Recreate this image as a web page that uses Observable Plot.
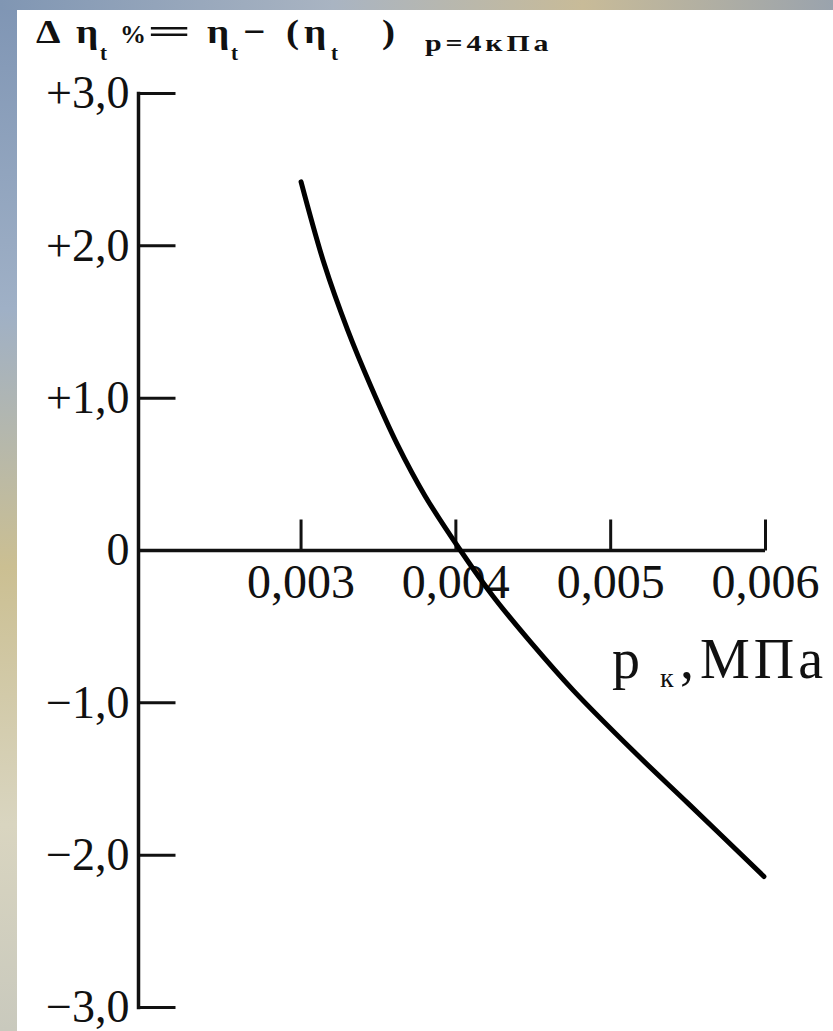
<!DOCTYPE html>
<html>
<head>
<meta charset="utf-8">
<script src="https://cdn.jsdelivr.net/npm/d3@7"></script>
<script src="https://cdn.jsdelivr.net/npm/@observablehq/plot@0.6"></script>
<style>
html, body { margin: 0; padding: 0; }
body {
  width: 833px; height: 1031px; position: relative; overflow: hidden;
  background: linear-gradient(180deg, #7f95b4 0%, #9fb0c6 30%, #cbbf92 55%, #d9d5c0 80%, #c9c9bd 100%);
}
#topstrip {
  position: absolute; left: 0; top: 0; width: 833px; height: 10px;
  background: linear-gradient(90deg, #8096b3 0%, #a9b4c2 40%, #c8bb98 70%, #9aa3ad 100%);
}
#panel { position: absolute; left: 17px; top: 10px; right: 0; bottom: 0; background: #fff; }
#chart { position: absolute; left: 0; top: 0; }
.t { position: absolute; white-space: nowrap; line-height: 1; color: #111;
     font-family: "Liberation Serif", serif; transform-origin: 0 0; }
.tb { font-weight: bold; font-size: 34px; top: 15px; transform: scaleX(1.15); }
.ts { font-weight: bold; font-size: 21px; top: 43px; }
.tpct { font-weight: bold; font-size: 26px; top: 22px; }
.teq { font-weight: bold; font-size: 34px; top: 15px; transform: scaleX(2.3); }
.tp { font-weight: bold; font-size: 23px; top: 32px; letter-spacing: 3px; transform: scaleX(1.3); }
.xl { font-size: 56px; top: 631px; }
.xs { font-size: 28px; top: 664px; }
g[aria-label="ylabels"] text { letter-spacing: 5px; }
g[aria-label="xlabels"] text { letter-spacing: 1.5px; }
</style>
</head>
<body>
<div id="topstrip"></div>
<div id="panel"></div>
<div id="chart"></div>
<!-- title: Δη_t % = η_t − (η_t)_{p=4кПа} -->
<span class="t tb" style="left:36px">Δ</span>
<span class="t tb" style="left:76px">η</span><span class="t ts" style="left:100px">t</span>
<span class="t tpct" style="left:120px">%</span>
<span class="t teq" style="left:147px">=</span>
<span class="t tb" style="left:207px">η</span><span class="t ts" style="left:231px">t</span>
<span class="t tb" style="left:243px">−</span>
<span class="t tb" style="left:286px">(</span>
<span class="t tb" style="left:304px">η</span><span class="t ts" style="left:331px">t</span>
<span class="t tb" style="left:382px">)</span>
<span class="t tp" style="left:425px">p=4кПа</span>
<!-- x axis label: p_к, МПа -->
<span class="t xl" style="left:612px">p</span>
<span class="t xs" style="left:660px">к</span>
<span class="t xl" style="left:680px">,</span>
<span class="t xl" style="left:700px; letter-spacing:4px">МПа</span>
<script>
// Data
const pk   = [0.00300, 0.00315, 0.00330, 0.00345, 0.00362, 0.00380, 0.00403, 0.00424, 0.00449, 0.00476, 0.00515, 0.00550, 0.00599];
const dEta = [2.42,    1.88,    1.45,    1.08,    0.70,    0.36,    0.00,   -0.30,   -0.61,   -0.92,   -1.32,   -1.66,   -2.14];

const xTicks = [0.003, 0.004, 0.005, 0.006];
const xTickLabels = ["0,003", "0,004", "0,005", "0,006"];
const yTicks = [3, 2, 1, 0, -1, -2, -3];
const yTickLabels = ["+3,0", "+2,0", "+1,0", "0", "−1,0", "−2,0", "−3,0"];
const xDomain = [0.00195, 0.006];
const yDomain = [-3, 3];

const data = pk.map((x, i) => ({x, y: dEta[i]}));
const tickShape = { draw(ctx, l) { ctx.moveTo(0, 0); ctx.lineTo(0, -l); } };

const chart = Plot.plot({
  width: 833, height: 1031,
  marginLeft: 138, marginRight: 68, marginTop: 93, marginBottom: 24,
  style: { background: "transparent", fontFamily: "Liberation Serif, serif", color: "#111" },
  x: { domain: xDomain, axis: null },
  y: { domain: yDomain, axis: null },
  marks: [
    Plot.frame({ anchor: "left", stroke: "#111", strokeWidth: 3.5 }),
    Plot.ruleY([0], { stroke: "#111", strokeWidth: 3.5 }),
    Plot.vector(yTicks, { y: d => d, frameAnchor: "left", length: 37, rotate: 90, anchor: "start",
      shape: tickShape, stroke: "#111", strokeWidth: 3, strokeLinecap: "butt" }),
    Plot.vector(xTicks, { x: d => d, y: 0, length: 31, rotate: 0, anchor: "start",
      shape: tickShape, stroke: "#111", strokeWidth: 3, strokeLinecap: "butt" }),
    Plot.text(yTicks, { y: d => d, frameAnchor: "left", text: (d, i) => yTickLabels[i],
      textAnchor: "end", dx: -9, fontSize: 46, fill: "#111", ariaLabel: "ylabels" }),
    Plot.text(xTicks, { x: d => d, y: 0, text: (d, i) => xTickLabels[i],
      lineAnchor: "top", dy: 13, fontSize: 48, fill: "#111", ariaLabel: "xlabels" }),
    Plot.line(data, { x: "x", y: "y", curve: "catmull-rom", stroke: "#000", strokeWidth: 5 })
  ]
});
document.getElementById("chart").appendChild(chart);
</script>
</body>
</html>
